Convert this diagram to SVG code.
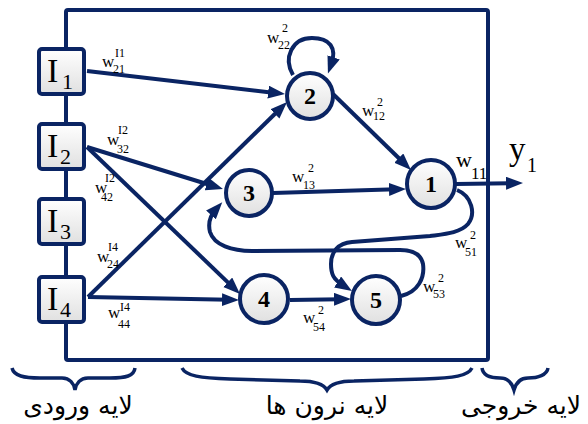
<svg xmlns="http://www.w3.org/2000/svg" width="588" height="424" viewBox="0 0 588 424">
<style>
.ln{fill:none;stroke:#0a2463;stroke-width:4}
.ar{marker-end:url(#ah)}
.bx{fill:url(#g);stroke:#0a2463;stroke-width:4}
.nd{fill:url(#g);stroke:#0a2463;stroke-width:4}
.nt{font-family:"Liberation Serif",serif;font-weight:bold;font-size:24px;text-anchor:middle;fill:#000}
.it{font-family:"Liberation Serif",serif;fill:#000}
.w{font-family:"Liberation Serif",serif;font-size:17px;fill:#000}
.s{font-size:12px}
.br{fill:none;stroke:#0a2463;stroke-width:3.5}
.fa{font-family:"DejaVu Sans",sans-serif;font-size:25px;text-anchor:middle;fill:#000}
</style>
<defs>
<linearGradient id="g" x1="0" y1="0" x2="0" y2="1">
<stop offset="0" stop-color="#ffffff"/>
<stop offset="1" stop-color="#e0e0e0"/>
</linearGradient>
<marker id="ah" markerUnits="userSpaceOnUse" markerWidth="18" markerHeight="14" refX="7" refY="6.5" orient="auto">
<path d="M0,0 L17,6.5 L0,13 z" fill="#0a2463"/>
</marker>
</defs>

<rect class="ln" x="66" y="10" width="422" height="350" rx="2"/>

<g id="connectors">
<path class="ln ar" d="M87 71 L275.1 92.9"/>
<path class="ln ar" d="M87 147 L213.4 186"/>
<path class="ln ar" d="M87 147 L232.8 287.1"/>
<path class="ln ar" d="M88 297 L279.9 109"/>
<path class="ln ar" d="M88 297 L229 299.8"/>
<path class="ln ar" d="M290 300 L341 299.2"/>
<path class="ln ar" d="M333 94 L403.8 163"/>
<path class="ln ar" d="M273 193 L396 189.3"/>
<path class="ln ar" d="M456 184 L513 183.1"/>
<path class="ln ar" d="M293 75 C283 58 292 38 312 38 C330 38 337 48 331.3 64"/>
<path class="ln ar" d="M457 190 C472 196 476 214 468 224 C460 233 445 234 430 236 L352 242 C338 243 331 252 331 264 C331 274 333 279 343.5 285.7"/>
<path class="ln ar" d="M401 296 C418 292 425 278 423 264 C421 254 413 250 400 250 L252 251 C232 251 214 245 210 232 C208 224 210 216 215.6 209.7"/>
</g>

<g id="I1"><rect class="bx" x="39" y="49" width="45" height="45" rx="3"/><text class="it"><tspan x="47" y="82" font-size="34">I</tspan><tspan x="62" y="89" font-size="22">1</tspan></text></g>
<g id="I2"><rect class="bx" x="39" y="124" width="45" height="45" rx="3"/><text class="it"><tspan x="47" y="157" font-size="34">I</tspan><tspan x="60" y="164" font-size="22">2</tspan></text></g>
<g id="I3"><rect class="bx" x="39" y="199" width="45" height="45" rx="3"/><text class="it"><tspan x="47" y="232" font-size="34">I</tspan><tspan x="60" y="239" font-size="22">3</tspan></text></g>
<g id="I4"><rect class="bx" x="39" y="277" width="45" height="45" rx="3"/><text class="it"><tspan x="47" y="310" font-size="34">I</tspan><tspan x="60" y="317" font-size="22">4</tspan></text></g>

<g id="n2"><circle class="nd" cx="310" cy="96" r="23"/><text class="nt" x="310" y="104">2</text></g>
<g id="n3"><circle class="nd" cx="249" cy="193" r="23"/><text class="nt" x="249" y="201">3</text></g>
<g id="n1"><circle class="nd" cx="431" cy="184" r="24"/><text class="nt" x="431" y="192">1</text></g>
<g id="n4"><circle class="nd" cx="264" cy="299" r="24"/><text class="nt" x="264" y="307">4</text></g>
<g id="n5"><circle class="nd" cx="376" cy="300" r="24"/><text class="nt" x="376" y="308">5</text></g>

<g id="labels">
<text class="w"><tspan x="102" y="67">w</tspan><tspan class="s" x="115" y="57">I1</tspan><tspan class="s" x="113" y="73">21</tspan></text>
<text class="w"><tspan x="107" y="145">w</tspan><tspan class="s" x="118" y="134">I2</tspan><tspan class="s" x="117" y="153">32</tspan></text>
<text class="w"><tspan x="95" y="193">w</tspan><tspan class="s" x="105" y="182">I2</tspan><tspan class="s" x="101" y="201">42</tspan></text>
<text class="w"><tspan x="97" y="262">w</tspan><tspan class="s" x="108" y="251">I4</tspan><tspan class="s" x="107" y="268">24</tspan></text>
<text class="w"><tspan x="108" y="318">w</tspan><tspan class="s" x="120" y="311">I4</tspan><tspan class="s" x="118" y="328">44</tspan></text>
<text class="w"><tspan x="267" y="43">w</tspan><tspan class="s" x="282" y="32">2</tspan><tspan class="s" x="278" y="49">22</tspan></text>
<text class="w"><tspan x="362" y="116">w</tspan><tspan class="s" x="377" y="106">2</tspan><tspan class="s" x="373" y="120">12</tspan></text>
<text class="w"><tspan x="292" y="182">w</tspan><tspan class="s" x="308" y="172">2</tspan><tspan class="s" x="303" y="189">13</tspan></text>
<text class="w"><tspan x="455" y="248">w</tspan><tspan class="s" x="470" y="239">2</tspan><tspan class="s" x="465" y="256">51</tspan></text>
<text class="w"><tspan x="423" y="292">w</tspan><tspan class="s" x="438" y="282">2</tspan><tspan class="s" x="433" y="298">53</tspan></text>
<text class="w"><tspan x="303" y="323">w</tspan><tspan class="s" x="318" y="314">2</tspan><tspan class="s" x="313" y="331">54</tspan></text>
<text class="it"><tspan x="456" y="167" font-size="22">w</tspan><tspan x="471" y="179" font-size="17">11</tspan></text>
<text class="it"><tspan x="509" y="160" font-size="33">y</tspan><tspan x="527" y="172" font-size="20">1</tspan></text>
</g>

<g id="braces">
<path class="br" d="M12 368 C14 376 24 378 40 378 L62 378 C70 378 74 384 75 390 C76 384 80 378 88 378 L110 378 C126 378 134 376 135 368"/>
<path class="br" d="M182 368 C186 376 200 378 230 379 L300 381 C315 381 324 385 327 390 C330 385 339 381 354 381 L424 379 C454 378 468 376 472 368"/>
<path class="br" d="M482 368 C483 375 490 378 500 378 C508 378 512 383 514 390 C516 383 520 378 528 378 C538 378 547 375 548 368"/>
<text class="fa" x="78" y="414">لایه ورودی</text>
<text class="fa" x="327" y="414">لایه نرون ها</text>
<text class="fa" x="521" y="414">لایه خروجی</text>
</g>
</svg>
